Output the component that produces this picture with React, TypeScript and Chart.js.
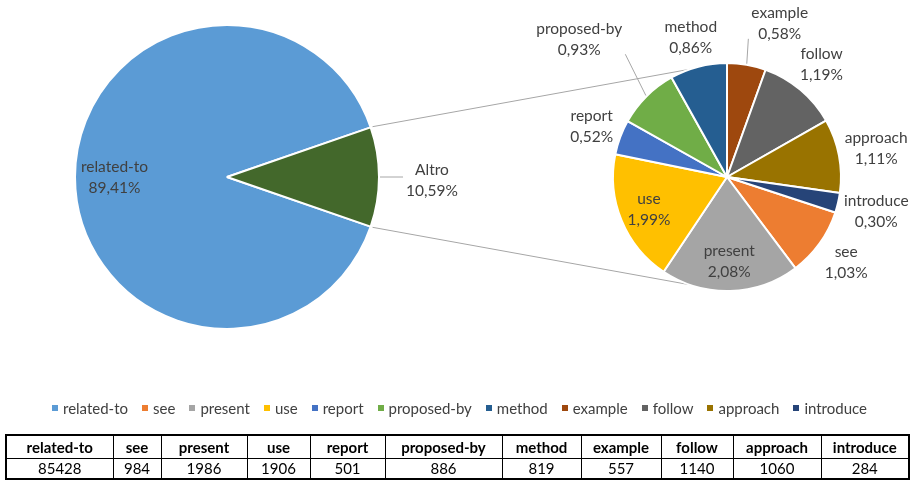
import React, { useEffect, useRef } from "react";
import { Chart, registerables } from "chart.js";
Chart.register(...registerables);

// ---- data ----
const mainLabel = "related-to";
const mainValue = 85428;
const otherLabel = "Altro";
const detailLabels = ["see", "present", "use", "report", "proposed-by", "method", "example", "follow", "approach", "introduce"];
const detailValues = [984, 1986, 1906, 501, 886, 819, 557, 1140, 1060, 284];
const tableLabels = [mainLabel, ...detailLabels];
const tableValues = [mainValue, ...detailValues];

// ---- styles ----
const mainColors = ["#5B9BD5", "#43682B"];
const detailColors = ["#ED7D31", "#A5A5A5", "#FFC000", "#4472C4", "#70AD47", "#255E91", "#9E480E", "#636363", "#997300", "#264478"];
const colWidths = [107, 48, 86, 63, 75, 117, 79, 80, 72, 88, 88];
const FONT = "Lato, 'Open Sans', sans-serif";
const LABEL_FONT_PX = 15.5;
const LINE_H = 21;
const TEXT_COLOR = "#404040";
const LINE_COLOR = "#A6A6A6";
const insideLabels = new Set(["related-to", "present", "use"]);
// labels that Excel moved away from their slice (with a leader line): polar placement [deg clockwise from top, distance]
const movedLabels: Record<string, [number, number]> = {
  "proposed-by": [313, 202],
  example: [19, 162],
  Altro: [91, 205],
};

const otherValue = detailValues.reduce((a, b) => a + b, 0);
const grandTotal = mainValue + otherValue;
const pct = (v: number) => ((v / grandTotal) * 100).toFixed(2).replace(".", ",") + "%";

function labelPlugin(names: string[], values: number[]) {
  return {
    id: "sliceLabels",
    afterDatasetsDraw(chart: any) {
      const ctx: CanvasRenderingContext2D = chart.ctx;
      const meta = chart.getDatasetMeta(0);
      ctx.save();
      ctx.font = `${LABEL_FONT_PX}px ${FONT}`;
      ctx.textAlign = "center";
      ctx.textBaseline = "middle";
      meta.data.forEach((arc: any, i: number) => {
        const p = arc.getProps(["x", "y", "startAngle", "endAngle", "outerRadius"], true);
        const mid = (p.startAngle + p.endAngle) / 2;
        const r = p.outerRadius;
        const name = names[i];
        const lines = [name, pct(values[i])];
        const w = Math.max(...lines.map((l) => ctx.measureText(l).width));
        const h = LINE_H * 2;
        let cx: number, cy: number;
        const moved = movedLabels[name];
        if (insideLabels.has(name)) {
          cx = p.x + Math.cos(mid) * r * 0.74;
          cy = p.y + Math.sin(mid) * r * 0.74;
        } else if (moved) {
          const a = ((moved[0] - 90) * Math.PI) / 180;
          cx = p.x + Math.cos(a) * moved[1];
          cy = p.y + Math.sin(a) * moved[1];
          const sx = p.x + Math.cos(mid) * (r + 1);
          const sy = p.y + Math.sin(mid) * (r + 1);
          const ex = Math.min(Math.max(sx, cx - w / 2 - 3), cx + w / 2 + 3);
          const ey = Math.min(Math.max(sy, cy - h / 2 + 6), cy + h / 2 - 6);
          ctx.strokeStyle = LINE_COLOR;
          ctx.lineWidth = 1;
          ctx.beginPath();
          ctx.moveTo(sx, sy);
          ctx.lineTo(ex, ey);
          ctx.stroke();
        } else {
          const support = Math.abs(Math.cos(mid)) * (w / 2) + Math.abs(Math.sin(mid)) * (h / 2);
          const d = r + 3 + support;
          cx = p.x + Math.cos(mid) * d;
          cy = p.y + Math.sin(mid) * d;
        }
        ctx.fillStyle = TEXT_COLOR;
        ctx.fillText(lines[0], cx, cy - LINE_H / 2);
        ctx.fillText(lines[1], cx, cy + LINE_H / 2);
      });
      ctx.restore();
    },
  };
}

function connectorPlugin(getLeft: () => Chart | null) {
  return {
    id: "seriesLines",
    beforeDatasetsDraw(chart: any) {
      const left = getLeft();
      if (!left) return;
      const la: any = (left.getDatasetMeta(0).data[1] as any).getProps(["x", "y", "startAngle", "endAngle", "outerRadius"], true);
      const ra: any = (chart.getDatasetMeta(0).data[0] as any).getProps(["x", "y", "outerRadius"], true);
      const ctx: CanvasRenderingContext2D = chart.ctx;
      ctx.save();
      ctx.strokeStyle = LINE_COLOR;
      ctx.lineWidth = 1;
      const pairs = [
        [la.startAngle, -Math.PI / 2 + la.startAngle],
        [la.endAngle, Math.PI / 2 + la.endAngle],
      ];
      pairs.forEach(([a1, a2]) => {
        ctx.beginPath();
        ctx.moveTo(la.x + Math.cos(a1) * (la.outerRadius + 2), la.y + Math.sin(a1) * (la.outerRadius + 2));
        ctx.lineTo(ra.x + Math.cos(a2) * ra.outerRadius, ra.y + Math.sin(a2) * ra.outerRadius);
        ctx.stroke();
      });
      ctx.restore();
    },
  };
}

export default function App() {
  const leftRef = useRef<HTMLCanvasElement>(null);
  const rightRef = useRef<HTMLCanvasElement>(null);

  useEffect(() => {
    const leftRotation = 90 - (360 * (mainValue + otherValue / 2)) / grandTotal;
    let cumBeforeExample = 0;
    for (let i = 0; i < detailLabels.indexOf("example"); i++) cumBeforeExample += detailValues[i];
    const rightRotation = 360 - (360 * cumBeforeExample) / otherValue;

    const left = new Chart(leftRef.current!, {
      type: "pie",
      data: {
        labels: [mainLabel, otherLabel],
        datasets: [
          {
            data: [mainValue, otherValue],
            backgroundColor: mainColors,
            borderColor: "#ffffff",
            borderWidth: 2,
            radius: 152,
            rotation: leftRotation,
          } as any,
        ],
      },
      options: {
        responsive: false,
        animation: false,
        events: [],
        layout: { padding: { left: 75, right: 540, top: 25, bottom: 152 } },
        plugins: { legend: { display: false }, tooltip: { enabled: false } },
      } as any,
      plugins: [labelPlugin([mainLabel, otherLabel], [mainValue, otherValue]) as any],
    });

    const right = new Chart(rightRef.current!, {
      type: "pie",
      data: {
        labels: detailLabels,
        datasets: [
          {
            data: detailValues,
            backgroundColor: detailColors,
            borderColor: "#ffffff",
            borderWidth: 2,
            radius: 114,
            rotation: rightRotation,
          } as any,
        ],
      },
      options: {
        responsive: false,
        animation: false,
        events: [],
        layout: { padding: { left: 613, right: 78, top: 63, bottom: 190 } },
        plugins: { legend: { display: false }, tooltip: { enabled: false } },
      } as any,
      plugins: [connectorPlugin(() => left) as any, labelPlugin(detailLabels, detailValues) as any],
    });

    return () => {
      right.destroy();
      left.destroy();
    };
  }, []);

  const legendItems = [mainLabel, ...detailLabels];
  const legendColors = [mainColors[0], ...detailColors];
  const cellStyle: React.CSSProperties = { border: "1px solid #000", textAlign: "center", padding: 0 };

  return (
    <div style={{ position: "absolute", left: 0, top: 0, width: 919, height: 481, background: "#fff", fontFamily: FONT, overflow: "hidden" }}>
      <canvas ref={leftRef} width={919} height={481} style={{ position: "absolute", left: 0, top: 0 }} />
      <canvas ref={rightRef} width={919} height={481} style={{ position: "absolute", left: 0, top: 0 }} />
      <div
        style={{
          position: "absolute",
          left: 0,
          top: 399,
          width: 919,
          display: "flex",
          justifyContent: "center",
          alignItems: "center",
          fontSize: 15,
          lineHeight: "18px",
          color: TEXT_COLOR,
        }}
      >
        {legendItems.map((name, i) => (
          <div key={name} style={{ display: "flex", alignItems: "center", marginRight: i < legendItems.length - 1 ? 14 : 0 }}>
            <span style={{ display: "inline-block", width: 6, height: 6, background: legendColors[i], marginRight: 5 }} />
            <span>{name}</span>
          </div>
        ))}
      </div>
      <table
        style={{
          position: "absolute",
          left: 5,
          top: 434,
          borderCollapse: "collapse",
          tableLayout: "fixed",
          width: colWidths.reduce((a, b) => a + b, 0),
          border: "2px solid #000",
          fontSize: 15,
          color: "#000",
        }}
      >
        <colgroup>
          {colWidths.map((w, i) => (
            <col key={i} style={{ width: w }} />
          ))}
        </colgroup>
        <tbody>
          <tr style={{ height: 23 }}>
            {tableLabels.map((l) => (
              <td key={l} style={{ ...cellStyle, fontWeight: 700 }}>
                {l}
              </td>
            ))}
          </tr>
          <tr style={{ height: 21 }}>
            {tableValues.map((v, i) => (
              <td key={i} style={cellStyle}>
                {v}
              </td>
            ))}
          </tr>
        </tbody>
      </table>
    </div>
  );
}
